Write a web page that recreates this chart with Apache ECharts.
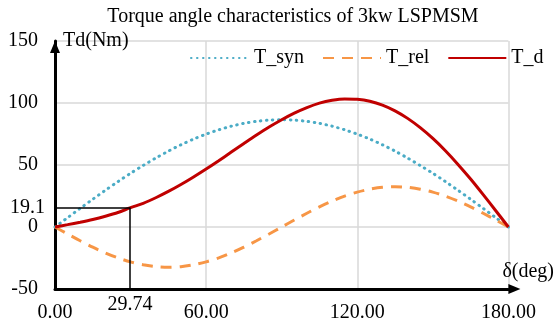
<!DOCTYPE html>
<html>
<head>
<meta charset="utf-8">
<script src="https://cdn.jsdelivr.net/npm/echarts@6/dist/echarts.min.js"></script>
<style>
  html, body { margin: 0; padding: 0; background: #fff; }
  #main { width: 557px; height: 324px; }
</style>
</head>
<body>
<div id="main"></div>
<script>
// torque angle in degrees, 5 degree steps
const deg = [0, 5, 10, 15, 20, 25, 30, 35, 40, 45, 50, 55, 60, 65, 70, 75, 80, 85, 90,
  95, 100, 105, 110, 115, 120, 125, 130, 135, 140, 145, 150, 155, 160, 165, 170, 175, 180];
// torque values (Nm)
const tSyn = [0, 7.5, 15.0, 22.4, 29.6, 36.6, 43.3, 49.6, 55.6, 61.2, 66.3, 70.9, 74.9, 78.4, 81.3, 83.6, 85.2, 86.2, 86.5,
  86.2, 85.2, 83.6, 81.3, 78.4, 74.9, 70.9, 66.3, 61.2, 55.6, 49.6, 43.3, 36.6, 29.6, 22.4, 15.0, 7.5, 0];
const tRel = [0, -5.6, -11.1, -16.3, -20.9, -24.9, -28.1, -30.5, -32.0, -32.5, -32.0, -30.5, -28.1, -24.9, -20.9, -16.3, -11.1, -5.6, 0,
  5.6, 11.1, 16.3, 20.9, 24.9, 28.1, 30.5, 32.0, 32.5, 32.0, 30.5, 28.1, 24.9, 20.9, 16.3, 11.1, 5.6, 0];
const tD = [0, 1.9, 3.9, 6.1, 8.7, 11.7, 15.6, 19.1, 23.6, 28.7, 34.3, 40.4, 46.8, 53.5, 60.4, 67.3, 74.1, 80.6, 86.5,
  91.8, 96.3, 99.9, 102.2, 103.3, 103.0, 101.4, 98.3, 93.7, 87.6, 80.1, 71.4, 61.5, 50.5, 38.7, 26.1, 13.1, 0];
const seriesNames = ["T_syn", "T_rel", "T_d"];
// operating point marker: where it sits on the plot, and what it is labelled
const markX = 29.74;
const markY = 15.8;
const markLabels = ["29.74", "19.1"];

const pairs = (ys) => deg.map((d, i) => [d, ys[i]]);
const font = "Liberation Serif";

const chart = echarts.init(document.getElementById("main"));
chart.setOption({
  animation: false,
  title: {
    text: "Torque angle characteristics of 3kw LSPMSM",
    left: 288,
    top: 2,
    textAlign: "center",
    textStyle: { fontFamily: font, fontSize: 20, fontWeight: "normal", color: "#000" },
  },
  legend: {
    left: 185,
    top: 43,
    itemWidth: 58,
    itemHeight: 14,
    itemGap: 18,
    itemStyle: { opacity: 0 },
    textStyle: { fontFamily: font, fontSize: 20, color: "#000" },
    data: seriesNames,
  },
  grid: { left: 55, right: 46, top: 41, bottom: 35 },
  xAxis: {
    type: "value",
    min: 0,
    max: 180,
    interval: 60,
    name: "δ(deg)",
    nameLocation: "end",
    nameGap: -6,
    nameTextStyle: {
      fontFamily: font, fontSize: 20, color: "#000",
      align: "left", verticalAlign: "bottom", padding: [0, 0, 7, 0],
    },
    axisLine: {
      onZero: false,
      lineStyle: { color: "#000", width: 3 },
      symbol: ["none", "triangle"],
      symbolSize: [10, 12],
      symbolOffset: [0, 6],
    },
    axisTick: { show: false },
    axisLabel: {
      fontFamily: font, fontSize: 20, color: "#000", margin: 14,
      formatter: (v) => v.toFixed(2),
    },
    splitLine: { show: true, lineStyle: { color: "#d9d9d9", width: 1.5 } },
  },
  yAxis: {
    type: "value",
    min: -50,
    max: 150,
    interval: 50,
    name: "Td(Nm)",
    nameLocation: "end",
    nameGap: 0,
    nameTextStyle: {
      fontFamily: font, fontSize: 20, color: "#000",
      align: "left", verticalAlign: "middle", padding: [0, 0, 0, 8],
    },
    axisLine: {
      show: true,
      onZero: false,
      lineStyle: { color: "#000", width: 3 },
      symbol: ["none", "triangle"],
      symbolSize: [10, 12],
      symbolOffset: [0, -6],
    },
    axisTick: { show: false },
    axisLabel: { fontFamily: font, fontSize: 20, color: "#000", margin: 17 },
    splitLine: { show: true, lineStyle: { color: "#d9d9d9", width: 1.5 } },
  },
  series: [
    {
      name: seriesNames[0],
      type: "line",
      data: pairs(tSyn),
      smooth: 0.3,
      symbol: "none",
      lineStyle: { color: "#4bacc6", width: 3, type: [0.5, 5.5], cap: "round" },
      itemStyle: { color: "#4bacc6" },
      z: 3,
    },
    {
      name: seriesNames[1],
      type: "line",
      data: pairs(tRel),
      smooth: 0.3,
      symbol: "none",
      lineStyle: { color: "#f79646", width: 3, type: [11, 8] },
      itemStyle: { color: "#f79646" },
      z: 3,
    },
    {
      name: seriesNames[2],
      type: "line",
      data: pairs(tD),
      smooth: 0.3,
      symbol: "none",
      lineStyle: { color: "#c00000", width: 3 },
      itemStyle: { color: "#c00000" },
      z: 4,
      markLine: {
        silent: true,
        symbol: "none",
        lineStyle: { color: "#000", width: 1.5, type: "solid" },
        label: { fontFamily: font, fontSize: 20, color: "#000" },
        data: [
          [
            { coord: [0, markY], label: { position: "start", distance: 10, formatter: () => markLabels[1] } },
            { coord: [markX, markY] },
          ],
          [
            { coord: [markX, markY], label: { position: "end", distance: 6, formatter: () => markLabels[0] } },
            { coord: [markX, -50] },
          ],
        ],
      },
    },
  ],
});
</script>
</body>
</html>
